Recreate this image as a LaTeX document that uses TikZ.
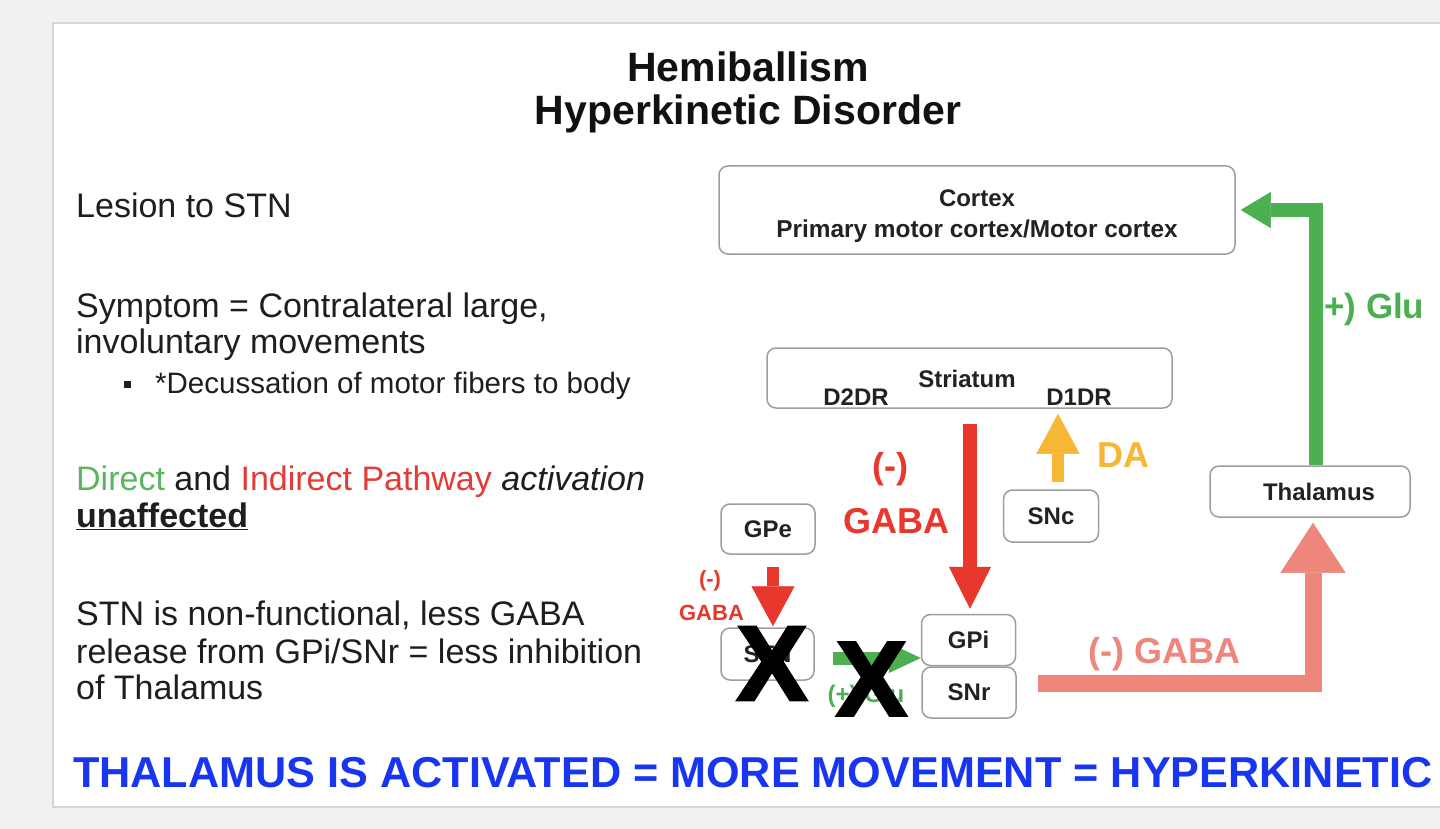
\documentclass[tikz,border=0pt]{standalone}
\usepackage{fontspec}
\setmainfont{Liberation Sans}
\newfontfamily\heavyx[FakeBold=2.5]{Liberation Sans Bold}
\usetikzlibrary{arrows.meta,calc}
\definecolor{bgc}{HTML}{F1F1F1}
\definecolor{panelc}{HTML}{D3D7DB}
\definecolor{txtc}{HTML}{1E1E1E}
\definecolor{titlec}{HTML}{111111}
\definecolor{boxc}{HTML}{9E9E9E}
\definecolor{boxtxt}{HTML}{222222}
\definecolor{redc}{HTML}{E8372C}
\definecolor{salc}{HTML}{EF867C}
\definecolor{grnc}{HTML}{4CAF50}
\definecolor{yelc}{HTML}{F6B735}
\definecolor{bluec}{HTML}{1836F0}
\definecolor{dirc}{HTML}{5BB560}
\definecolor{indc}{HTML}{E53B35}
\newcommand\fsz[1]{\fontsize{#1}{#1}\selectfont}
\tikzset{
  box/.style={draw=boxc, line width=1.5pt, rounded corners=9pt, fill=white, inner sep=0pt, font=\bfseries\fsz{24}, text=boxtxt},
  boxlbl/.style={anchor=base, inner sep=0pt, font=\bfseries\fsz{24}, text=boxtxt},
  lefttxt/.style={anchor=base west, inner sep=0pt, font=\fsz{34}, text=txtc},
  blk/.style={line cap=butt, line join=miter},
  redbig/.style={blk, draw=redc, line width=14pt, -{Triangle[length=42pt,width=42pt,line width=0.5pt]}},
  redsmall/.style={blk, draw=redc, line width=12pt, -{Triangle[length=40pt,width=43pt,line width=0.5pt]}},
  yelarrow/.style={blk, draw=yelc, line width=12pt, -{Triangle[length=40pt,width=43pt,line width=0.5pt]}},
  grnbig/.style={blk, draw=grnc, line width=14pt, -{Triangle[length=30pt,width=36pt,line width=0.5pt]}},
  grnsmall/.style={blk, draw=grnc, line width=13pt, -{Triangle[length=32pt,width=30pt,line width=0.5pt]}},
  salarrow/.style={blk, draw=salc, line width=17pt, -{Triangle[length=50pt,width=65pt,line width=0.5pt]}},
  lbl/.style={inner sep=0pt, font=\bfseries\fsz{36}},
  lesion/.style={inner sep=0pt, font=\heavyx\fsz{106}, text=black},
}
\begin{document}
\begin{tikzpicture}[x=1pt,y=-1pt]
\useasboundingbox (0,0) rectangle (1440,829);
\fill[bgc] (0,0) rectangle (1440,829);
\fill[white] (53,23) rectangle (1440,807);
\draw[panelc, line width=2pt] (1440,23) -- (53,23) -- (53,807) -- (1440,807);

% title
\node[anchor=base, inner sep=0pt, font=\bfseries\fsz{41}, text=titlec] (t1) at (748,82) {Hemiballism};
\node[anchor=base, inner sep=0pt, font=\bfseries\fsz{41}, text=titlec] (t2) at (748,125) {Hyperkinetic Disorder};

% left text
\node[lefttxt] (l1) at (76,218) {Lesion to STN};
\node[lefttxt] (l2) at (76,317) {Symptom = Contralateral large,};
\node[lefttxt] (l3) at (76,353) {involuntary movements};
\node[fill=txtc, minimum size=7pt, inner sep=0pt] (bul) at (127.5,384) {};
\node[lefttxt, font=\fsz{29.5}] (l4) at (155,393) {*Decussation of motor fibers to body};
\node[lefttxt] (l5) at (76,490) {\textcolor{dirc}{Direct} and \textcolor{indc}{Indirect Pathway} \textit{activation}};
\node[lefttxt] (l6) at (76,527) {\underline{\textbf{unaffected}}};
\node[lefttxt] (l7) at (76,625) {STN is non-functional, less GABA};
\node[lefttxt] (l8) at (76,663) {release from GPi/SNr = less inhibition};
\node[lefttxt] (l9) at (76,699) {of Thalamus};
\node[anchor=base west, inner sep=0pt, font=\bfseries\fsz{43.2}, text=bluec] (bot) at (73,787) {THALAMUS IS ACTIVATED = MORE MOVEMENT = HYPERKINETIC};

% boxes
\node[box, minimum width=516pt, minimum height=88pt] (cortex) at (977,210) {};
\node[boxlbl] (ctx1) at (977,207) {Cortex};
\node[boxlbl, font=\bfseries\fsz{24.4}] (ctx2) at (977,237) {Primary motor cortex/Motor cortex};
\node[box, minimum width=405pt, minimum height=60pt] (striatum) at (969.5,378) {};
\node[boxlbl] (strl) at (967,387) {Striatum};
\node[boxlbl] (d2) at (856,405) {D2DR};
\node[boxlbl] (d1) at (1079,405) {D1DR};
\node[box, minimum width=200pt, minimum height=51pt] (thal) at (1310,491.5) {\hspace*{18pt}Thalamus};
\node[box, minimum width=95pt, minimum height=52pt] (snc) at (1051,516) {SNc};
\node[box, minimum width=94pt, minimum height=50pt] (gpe) at (768,529) {GPe};
\node[box, minimum width=93pt, minimum height=52pt] (stn) at (767.5,654) {STN};
\node[box, minimum width=94pt, minimum height=51pt] (gpi) at (968.5,640) {GPi};
\node[box, minimum width=94pt, minimum height=51pt] (snr) at (969,692.5) {SNr};

% arrows
\draw[redbig] ($(gpi.north |- striatum.south)+(1.5,15)$) -- ($(gpi.north)+(1.5,-5)$);
\draw[yelarrow] ($(snc.north)+(7,-7)$) -- ($(snc.north |- striatum.south)+(7,5)$);
\draw[grnbig] ($(thal.north)+(6,0)$) |- ($(cortex.east)+(5,0)$);
\draw[salarrow] ($(snr.east)+(21,-9)$) -| ($(thal.south)+(3,5)$);
\draw[redsmall] ($(gpe.south)+(5,12)$) -- ($(stn.north)+(5.5,-1)$);
\draw[grnsmall] ($(stn.east)+(18.5,4)$) -- ($(gpi.west)+(0,18)$);

% arrow labels
\node[lbl, text=redc] (m1) at (890,469) {(-)};
\node[lbl, anchor=base, text=redc] (m2) at (896,533) {GABA};
\node[lbl, anchor=base, text=yelc] (da) at (1123,467) {DA};
\node[lbl, anchor=base west, font=\bfseries\fsz{35}, text=grnc] (glu) at (1324,318) {+) Glu};
\node[lbl, anchor=base west, text=salc] (gaba2) at (1088,663) {(-) GABA};
\node[lbl, font=\bfseries\fsz{22}, text=redc] (m3) at (710,581) {(-)};
\node[lbl, anchor=base, font=\bfseries\fsz{22}, text=redc] (m4) at (711.5,620) {GABA};
\node[lbl, anchor=base, font=\bfseries\fsz{24}, text=grnc] (glu2) at (866,702) {(+) Glu};

% lesion marks
\node[lesion] (xa) at (772,663.5) {X};
\node[lesion] (xb) at (871.5,679) {X};
\end{tikzpicture}
\end{document}
